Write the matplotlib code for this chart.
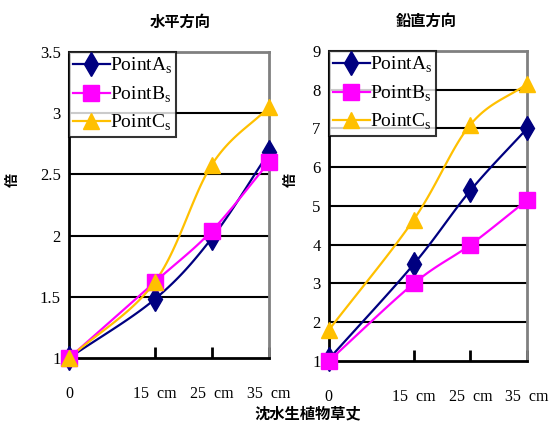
import numpy as np
import matplotlib.pyplot as plt

# data
heights = [0, 15, 25, 35]
tick_labels = ["0", "15  cm", "25  cm", "35  cm"]

horiz_a = [1.0, 1.48, 1.98, 2.68]
horiz_b = [1.0, 1.62, 2.04, 2.60]
horiz_c = [1.0, 1.62, 2.58, 3.05]

vert_a = [1.05, 3.5, 5.4, 7.0]
vert_b = [1.0, 3.0, 4.0, 5.15]
vert_c = [1.8, 4.65, 7.1, 8.15]

names = ["PointA$_\\mathregular{s}$", "PointB$_\\mathregular{s}$", "PointC$_\\mathregular{s}$"]
colors = ["#000080", "#FF00FF", "#FFC000"]
markers = ["d", "s", "^"]
msizes = [12, 11, 11]

plt.rcParams['font.family'] = ['Liberation Serif', 'DejaVu Serif']
plt.rcParams['mathtext.fontset'] = 'custom'
plt.rcParams['mathtext.rm'] = 'Liberation Serif'
cjk = ['Noto Sans CJK JP', 'DejaVu Sans']


def smooth(x, y, n=30):
    # catmull-rom like the excel "smoothed line"
    x = np.asarray(x, float)
    y = np.asarray(y, float)
    px = np.concatenate([[2 * x[0] - x[1]], x, [2 * x[-1] - x[-2]]])
    py = np.concatenate([[2 * y[0] - y[1]], y, [2 * y[-1] - y[-2]]])
    xs, ys = [], []
    t = np.linspace(0, 1, n)
    for i in range(1, len(px) - 2):
        for p, out in ((px, xs), (py, ys)):
            p0, p1, p2, p3 = p[i - 1], p[i], p[i + 1], p[i + 2]
            out.extend(0.5 * (2 * p1 + (-p0 + p2) * t
                              + (2 * p0 - 5 * p1 + 4 * p2 - p3) * t ** 2
                              + (-p0 + 3 * p1 - 3 * p2 + p3) * t ** 3))
    return xs, ys


fig = plt.figure(figsize=(5.49, 4.25), dpi=100)
ax1 = fig.add_axes([0.1257, 0.1576, 0.3643, 0.72])
ax2 = fig.add_axes([0.599, 0.1506, 0.361, 0.7294])

panels = [
    (ax1, [horiz_a, horiz_b, horiz_c], (1, 3.5), np.arange(1, 3.51, 0.5), "水平方向",
     0.555, (-0.245, 0.58)),
    (ax2, [vert_a, vert_b, vert_c], (1, 9), np.arange(1, 10, 1), "鉛直方向",
     0.49, (-0.157, 0.584)),
]

for ax, series, ylim, yticks, title, tx, ylab_pos in panels:
    handles = []
    for vals, name, c, m, ms in zip(series, names, colors, markers, msizes):
        sx, sy = smooth(heights, vals)
        ax.plot(sx, sy, color=c, lw=1.6, zorder=3)
        ax.plot(heights, vals, ls='none', marker=m, ms=ms, color=c, zorder=4, clip_on=False)
        h, = ax.plot([], [], color=c, lw=1.6, marker=m, ms=ms)
        handles.append(h)
    ax.set_xlim(0, 35)
    ax.set_ylim(*ylim)
    ax.set_yticks(yticks)
    ax.set_yticklabels([f"{v:g}" for v in yticks], fontsize=12)
    ax.set_xticks(heights)
    ax.set_xticklabels(tick_labels, fontsize=11.5)
    ax.tick_params(axis='x', direction='in', length=8, width=2, pad=20)
    ax.tick_params(axis='y', length=0, pad=6)
    for v in yticks[1:-1]:
        ax.axhline(v, color='black', lw=1.5, zorder=1)
    for s in ('left', 'bottom'):
        ax.spines[s].set_linewidth(2)
        ax.spines[s].set_color('black')
    for s in ('top', 'right'):
        ax.spines[s].set_linewidth(2)
        ax.spines[s].set_color('#808080')
    leg = ax.legend(handles, names, loc='upper left', bbox_to_anchor=(0, 1),
                    borderaxespad=0, fontsize=14, frameon=True, fancybox=False,
                    handlelength=1.9, handletextpad=0.0, borderpad=0.2,
                    labelspacing=0.42)
    leg.get_frame().set_edgecolor('black')
    leg.get_frame().set_linewidth(1.5)
    leg.set_zorder(5)
    ax.set_title(title, family=cjk, fontsize=11, fontweight='bold', pad=18, x=tx)
    ax.set_ylabel("倍", family=cjk, fontsize=10, fontweight='bold', rotation=90)
    ax.yaxis.set_label_coords(*ylab_pos)

fig.text(0.56, 0.028, "沈水生植物草丈", family=cjk, fontsize=11, fontweight='bold',
         ha='center', va='center')

fig.savefig("out.png", dpi=100)
